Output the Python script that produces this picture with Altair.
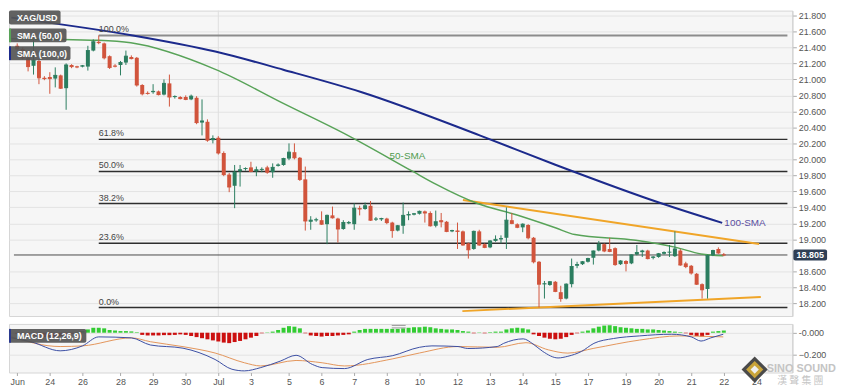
import altair as alt
import pandas as pd

FONT = "Liberation Sans"
GREEN = "#2b7d5f"
RED = "#d1543c"

# ---------------- data (4H candles, index 0 = first candle of Jun 23) ----------------
day_ticks = [0, 6, 12, 19, 25, 31, 37, 43, 50, 56, 62, 68, 74, 81, 87, 93, 99, 105, 112, 118, 124, 130, 136]
day_labels = ["Jun", "24", "26", "28", "29", "30", "Jul", "3", "5", "6", "7", "8", "10",
              "12", "13", "14", "15", "17", "19", "20", "21", "22", "24"]

opens = [21.42, 21.38, 21.27, 21.17, 21.23, 21.02, 21.03, 21.01, 21.05, 20.89,
         21.18, 21.16, 21.16, 21.16, 21.36, 21.47, 21.45, 21.29, 21.17, 21.18,
         21.21, 21.28, 21.27, 20.93, 20.83, 20.84, 20.85, 20.81, 20.95, 20.78,
         20.78, 20.78, 20.75, 20.77, 20.46, 20.47, 20.24, 20.27, 20.08, 19.81,
         19.67, 19.85, 19.88, 19.90, 19.85, 19.87, 19.90, 19.84, 19.92, 19.93,
         20.01, 20.09, 20.02, 19.75, 19.22, 19.24, 19.24, 19.19, 19.30, 19.26,
         19.13, 19.20, 19.19, 19.39, 19.38, 19.42, 19.25, 19.25, 19.26, 19.21,
         19.11, 19.17, 19.30, 19.31, 19.32, 19.35, 19.33, 19.17, 19.24, 19.22,
         19.10, 19.11, 19.10, 18.95, 18.88, 19.10, 18.94, 18.90, 18.98, 19.00,
         19.02, 19.24, 19.19, 19.15, 19.18, 19.02, 18.72, 18.44, 18.43, 18.47,
         18.34, 18.26, 18.44, 18.67, 18.69, 18.72, 18.77, 18.86, 18.94, 18.88,
         18.89, 18.69, 18.73, 18.70, 18.81, 18.84, 18.86, 18.77, 18.78, 18.82,
         18.84, 18.79, 18.86, 18.70, 18.67, 18.57, 18.44, 18.38, 18.80, 18.88,
         18.81]
highs = [21.45, 21.40, 21.30, 21.49, 21.25, 21.04, 21.09, 21.15, 21.06, 21.20,
         21.19, 21.17, 21.18, 21.42, 21.50, 21.55, 21.46, 21.30, 21.19, 21.23,
         21.36, 21.30, 21.28, 20.94, 20.85, 20.94, 20.86, 21.00, 21.06, 20.80,
         20.79, 20.80, 20.81, 20.79, 20.75, 20.50, 20.30, 20.29, 20.10, 19.83,
         19.93, 19.93, 19.90, 19.97, 19.91, 19.90, 19.92, 19.95, 19.95, 20.02,
         20.20, 20.20, 20.03, 19.91, 19.29, 19.27, 19.35, 19.31, 19.41, 19.27,
         19.24, 19.23, 19.45, 19.42, 19.46, 19.48, 19.28, 19.27, 19.27, 19.22,
         19.18, 19.46, 19.35, 19.33, 19.36, 19.36, 19.35, 19.36, 19.33, 19.23,
         19.12, 19.21, 19.11, 18.96, 19.11, 19.12, 18.95, 18.99, 19.05, 19.05,
         19.40, 19.33, 19.20, 19.20, 19.19, 19.03, 18.73, 18.48, 18.48, 18.48,
         18.42, 18.45, 18.76, 18.72, 18.73, 18.77, 18.86, 18.98, 18.95, 19.02,
         18.90, 18.74, 18.74, 18.81, 18.93, 18.87, 18.87, 18.79, 18.83, 18.85,
         18.93, 19.10, 18.88, 18.72, 18.68, 18.58, 18.45, 18.81, 18.87, 18.90,
         18.83]
lows = [21.36, 21.25, 21.10, 21.06, 20.94, 20.99, 20.82, 20.90, 20.88, 20.62,
        21.14, 21.14, 21.15, 21.11, 21.35, 21.44, 21.25, 21.13, 21.15, 21.05,
        21.18, 21.25, 20.91, 20.80, 20.81, 20.82, 20.80, 20.80, 20.66, 20.76,
        20.75, 20.74, 20.74, 20.44, 20.30, 20.22, 20.20, 20.06, 19.79, 19.59,
        19.39, 19.66, 19.86, 19.84, 19.79, 19.84, 19.82, 19.77, 19.91, 19.92,
        19.99, 20.00, 19.73, 19.11, 19.12, 19.22, 19.18, 18.94, 19.26, 18.96,
        19.12, 19.19, 19.12, 19.30, 19.37, 19.23, 19.23, 19.23, 19.19, 19.02,
        19.10, 19.07, 19.24, 19.30, 19.31, 19.21, 19.16, 19.15, 19.15, 19.09,
        19.09, 18.88, 18.92, 18.76, 18.87, 18.92, 18.89, 18.89, 18.97, 18.95,
        18.88, 19.19, 19.14, 19.09, 19.00, 18.70, 18.15, 18.26, 18.42, 18.34,
        18.22, 18.25, 18.40, 18.64, 18.68, 18.71, 18.685, 18.85, 18.84, 18.84,
        18.67, 18.68, 18.60, 18.69, 18.80, 18.78, 18.75, 18.75, 18.77, 18.81,
        18.78, 18.78, 18.67, 18.64, 18.56, 18.43, 18.26, 18.26, 18.79, 18.82,
        18.79]
closes = [21.38, 21.27, 21.16, 21.24, 21.02, 21.01, 21.01, 21.05, 20.89, 21.18,
          21.16, 21.155, 21.17, 21.36, 21.47, 21.46, 21.27, 21.15, 21.165, 21.21,
          21.29, 21.26, 20.93, 20.82, 20.825, 20.85, 20.81, 20.95, 20.78, 20.785,
          20.76, 20.75, 20.79, 20.46, 20.48, 20.24, 20.26, 20.08, 19.81, 19.655,
          19.84, 19.87, 19.885, 19.85, 19.87, 19.875, 19.84, 19.90, 19.93, 20.01,
          20.09, 20.02, 19.75, 19.23, 19.24, 19.245, 19.19, 19.30, 19.27, 19.13,
          19.21, 19.21, 19.39, 19.38, 19.42, 19.24, 19.255, 19.26, 19.21, 19.11,
          19.17, 19.30, 19.31, 19.32, 19.35, 19.33, 19.17, 19.22, 19.22, 19.10,
          19.11, 19.10, 18.93, 18.87, 19.10, 18.93, 18.90, 18.98, 19.00, 19.01,
          19.24, 19.20, 19.15, 19.19, 19.02, 18.72, 18.44, 18.445, 18.47, 18.35,
          18.26, 18.44, 18.66, 18.685, 18.72, 18.76, 18.855, 18.94, 18.855, 18.85,
          18.685, 18.73, 18.70, 18.806, 18.835, 18.855, 18.76, 18.78, 18.82, 18.835,
          18.84, 18.88, 18.68, 18.66, 18.58, 18.44, 18.37, 18.80, 18.86, 18.83,
          18.805]

sma50_x = [-1.07, 15, 20.9, 36.45, 48.95, 60.9, 72.7, 77, 84.7, 91.8, 99, 102.6, 113.8, 121, 125.8, 129.9]
sma50_y = [21.509, 21.488, 21.457, 21.125, 20.70, 20.297, 19.852, 19.69, 19.448, 19.307, 19.145, 19.06,
           18.988, 18.903, 18.818, 18.794]
sma100_x = [-1.07, 21.26, 36.45, 48.95, 63.25, 85.2, 99, 118.6, 129.7]
sma100_y = [21.772, 21.549, 21.348, 21.121, 20.842, 20.297, 19.933, 19.448, 19.206]

fib_names = ["100.0%", "61.8%", "50.0%", "38.2%", "23.6%", "0.0%"]
fib_prices = [21.549, 20.250, 19.849, 19.447, 18.951, 18.148]
fib_start = 15

trend_upper_x = [82, 136.5]
trend_upper_y = [19.491, 18.943]
trend_lower_x = [81.9, 136.8]
trend_lower_y = [18.103, 18.281]

last_price = 18.805
price_ticks = [21.8, 21.6, 21.4, 21.2, 21.0, 20.8, 20.6, 20.4, 20.2, 20.0, 19.8, 19.6, 19.4, 19.2, 19.0,
               18.6, 18.4, 18.2]

hist = [-0.01, -0.015, -0.02, -0.03, -0.035, -0.04, -0.04, -0.035, -0.03, -0.02,
        -0.01, 0.005, 0.015, 0.03, 0.045, 0.045, 0.04, 0.025, 0.02, 0.015,
        0.015, 0.012, 0.005, -0.02, -0.025, -0.025, -0.025, -0.022, -0.022, -0.02,
        -0.015, -0.02, -0.03, -0.04, -0.05, -0.06, -0.07, -0.08, -0.09, -0.095,
        -0.085, -0.075, -0.06, -0.045, -0.03, -0.005, 0.003, 0.01, 0.025, 0.045,
        0.06, 0.055, 0.04, -0.005, -0.025, -0.03, -0.035, -0.03, -0.03, -0.025,
        -0.02, -0.015, 0.01, 0.025, 0.035, 0.035, 0.035, 0.035, 0.035, 0.035,
        0.035, 0.04, 0.045, 0.05, 0.05, 0.055, 0.05, 0.04, 0.035, 0.03,
        0.03, 0.025, 0.015, 0.01, -0.005, 0.003, -0.005, 0.005, 0.01, 0.01,
        0.03, 0.04, 0.045, 0.04, 0.03, -0.015, -0.03, -0.045, -0.055, -0.06,
        -0.055, -0.04, -0.02, -0.005, 0.01, 0.02, 0.04, 0.055, 0.065, 0.068,
        0.06, 0.05, 0.045, 0.04, 0.035, 0.035, 0.03, 0.03, 0.025, 0.02,
        0.015, 0.01, 0.005, -0.005, -0.02, -0.03, -0.035, -0.02, 0.01, 0.015,
        0.02]
macd_x = [-1.07, 2.5, 7.9, 12, 15, 21, 24.5, 30.5, 36.4, 39.5, 41.8, 44.8, 48.4, 51.3, 54.3, 56.1, 60.2,
          64.5, 69.1, 74, 76.3, 81.1, 82.9, 88.3, 89.5, 93.1, 94.9, 96.7, 99.5, 101.3, 103.8, 106.1,
          109.7, 114.5, 120.4, 124, 125.8, 127.6, 129.9]
macd_v = [-0.047, -0.082, -0.165, -0.12, -0.038, -0.047, -0.112, -0.141, -0.244, -0.333, -0.348, -0.318,
          -0.259, -0.206, -0.289, -0.318, -0.327, -0.244, -0.209, -0.133, -0.120, -0.126, -0.144, -0.126,
          -0.097, -0.056, -0.103, -0.171, -0.230, -0.215, -0.171, -0.097, -0.053, -0.029, -0.014, -0.038,
          -0.076, -0.047, -0.014]
signal_x = [-1.07, 7.9, 12, 21, 24.5, 30.5, 36.4, 41.8, 44.8, 51.3, 56.1, 60.2, 69.1, 74, 81.1, 88.3,
            93.6, 97.7, 101.3, 106.1, 114.5, 121.8, 125.8, 129.9]
signal_v = [-0.038, -0.126, -0.120, -0.047, -0.082, -0.127, -0.185, -0.274, -0.303, -0.253, -0.274,
            -0.303, -0.238, -0.185, -0.126, -0.133, -0.091, -0.156, -0.186, -0.142, -0.067, -0.029,
            -0.032, -0.038]

# ---------------- layout ----------------
X_MIN, X_MAX = -0.6, 141.7
W = 790
H_MAIN = 308
H_MACD = 49
Y_MIN, Y_MAX = 18.042, 21.86
M_MIN, M_MAX = -0.363, 0.08

xs = alt.Scale(domain=[X_MIN, X_MAX], nice=False, zero=False)
ys = alt.Scale(domain=[Y_MIN, Y_MAX], nice=False, zero=False)
ms = alt.Scale(domain=[M_MIN, M_MAX], nice=False, zero=False)

y_axis = alt.Axis(orient="right", values=price_ticks, format=".3f", title=None, grid=True,
                  gridColor="#e3e3e3", tickSize=4, tickColor="#aaa", domainColor="#cfcfcf",
                  labelColor="#555", labelFontSize=9, labelPadding=2)
m_axis = alt.Axis(orient="right", values=[0, -0.2], title=None, grid=True, gridColor="#e3e3e3",
                  tickSize=4, tickColor="#aaa", domainColor="#cfcfcf", labelColor="#555",
                  labelFontSize=9, labelPadding=2,
                  labelExpr="datum.value == 0 ? '-0.000' : format(datum.value, '.3f')")
lab_expr = "[" + ",".join("'%s'" % s for s in day_labels) + "][indexof([" + \
           ",".join(str(t) for t in day_ticks) + "], datum.value)]"
x_axis = alt.Axis(values=day_ticks, labelExpr=lab_expr, title=None, grid=False, tickSize=3,
                  tickColor="#aaa", domain=False, labelColor="#555", labelFontSize=9, labelPadding=2)


def X(f):
    return alt.X(f, type="quantitative", scale=xs, axis=None)


def Y(f):
    return alt.Y(f, type="quantitative", scale=ys, axis=y_axis)


def XM(f):
    return alt.X(f, type="quantitative", scale=xs, axis=x_axis)


def YM(f):
    return alt.Y(f, type="quantitative", scale=ms, axis=m_axis)


one = alt.Data(values=[{}])

candles = pd.DataFrame({"i": list(range(len(opens))), "open": opens, "high": highs,
                        "low": lows, "close": closes})
up = candles[candles.close >= candles.open]
down = candles[candles.close < candles.open]


def candle_layers(df, color):
    return [
        alt.Chart(df).mark_rule(strokeWidth=1, color=color).encode(x=X("i"), y=Y("low"), y2="high"),
        alt.Chart(df).mark_bar(size=4, color=color).encode(x=X("i"), y=Y("open"), y2="close"),
        alt.Chart(df).mark_tick(orient="horizontal", size=4, thickness=1, color=color, opacity=1).encode(
            x=X("i"), y=Y("close")),
    ]


month_df = pd.DataFrame({"x": [37], "y0": [Y_MIN], "y1": [Y_MAX]})
month_rule = alt.Chart(month_df).mark_rule(color="#dedede", strokeWidth=1).encode(
    x=X("x"), y=Y("y0"), y2="y1")

fib_df = pd.DataFrame({"name": fib_names, "price": fib_prices, "x0": fib_start, "x1": X_MAX})
fib_top = alt.Chart(fib_df.iloc[:1]).mark_rule(strokeWidth=2, color="#8c8c8c").encode(
    x=X("x0"), x2="x1", y=Y("price"))
fib_rest = alt.Chart(fib_df.iloc[1:]).mark_rule(strokeWidth=1.5, color="#2e2e2e").encode(
    x=X("x0"), x2="x1", y=Y("price"))
fib_text = alt.Chart(fib_df).mark_text(align="left", baseline="bottom", dy=-1, fontSize=9,
                                       color="#444", font=FONT).encode(
    x=X("x0"), y=Y("price"), text="name:N")

price_df = pd.DataFrame({"x0": [X_MIN], "x1": [X_MAX], "p": [last_price],
                         "p0": [last_price - 0.068], "p1": [last_price + 0.068],
                         "t": ["%.3f" % last_price]})
price_line = alt.Chart(price_df).mark_rule(color="#4a4a4a", strokeWidth=1).encode(
    x=X("x0"), x2="x1", y=Y("p"))
price_box = alt.Chart(price_df).mark_rect(color="#2f3f55", cornerRadius=2, clip=False).encode(
    x=alt.value(W + 1), x2=alt.value(W + 35), y=Y("p0"), y2="p1")
price_txt = alt.Chart(price_df).mark_text(color="white", fontSize=9, fontWeight="bold", font=FONT,
                                          clip=False).encode(
    x=alt.value(W + 18), y=Y("p"), text="t:N")

sma50 = alt.Chart(pd.DataFrame({"x": sma50_x, "y": sma50_y})).mark_line(
    color="#58a358", strokeWidth=1.5, interpolate="monotone", clip=True).encode(x=X("x"), y=Y("y"))
sma100 = alt.Chart(pd.DataFrame({"x": sma100_x, "y": sma100_y})).mark_line(
    color="#1c2a8c", strokeWidth=2, interpolate="monotone", clip=True).encode(x=X("x"), y=Y("y"))

tu = alt.Chart(pd.DataFrame({"x": trend_upper_x, "y": trend_upper_y})).mark_line(
    color="#f0a528", strokeWidth=2).encode(x=X("x"), y=Y("y"))
tl = alt.Chart(pd.DataFrame({"x": trend_lower_x, "y": trend_lower_y})).mark_line(
    color="#f0a528", strokeWidth=2).encode(x=X("x"), y=Y("y"))

ann_df = pd.DataFrame({"x": [71.8, 130.1], "y": [20.04, 19.206], "t": ["50-SMA", "100-SMA"]})
ann1 = alt.Chart(ann_df.iloc[:1]).mark_text(align="center", baseline="middle", fontSize=10,
                                            font=FONT, color="#4f9a4f").encode(
    x=X("x"), y=Y("y"), text="t:N")
ann2 = alt.Chart(ann_df.iloc[1:]).mark_text(align="left", baseline="middle", fontSize=10,
                                            font=FONT, color="#5a4ea0").encode(
    x=X("x"), y=Y("y"), text="t:N")


def tag(label, y0, wdt, edge=None):
    layers = [alt.Chart(one).mark_rect(color="#555555", opacity=0.92, cornerRadius=2).encode(
        x=alt.value(0), x2=alt.value(wdt), y=alt.value(y0), y2=alt.value(y0 + 14))]
    if edge:
        layers.append(alt.Chart(one).mark_rect(color=edge).encode(
            x=alt.value(0), x2=alt.value(2), y=alt.value(y0), y2=alt.value(y0 + 14)))
    layers.append(alt.Chart(one).mark_text(align="left", baseline="middle", color="white",
                                           fontSize=9, fontWeight="bold", font=FONT).encode(
        x=alt.value(8), y=alt.value(y0 + 7.5), text=alt.value(label)))
    return layers


main = alt.layer(
    month_rule, fib_top, fib_rest, price_line, tu, tl, sma100, sma50,
    *candle_layers(up, GREEN), *candle_layers(down, RED),
    fib_text, ann1, ann2, price_box, price_txt,
    *tag("XAG/USD", 0, 52), *tag("SMA (50,0)", 18, 58, "#58a358"), *tag("SMA (100,0)", 36, 62, "#1c2a8c")
).properties(width=W, height=H_MAIN)

# ---------------- MACD panel ----------------
hdf = pd.DataFrame({"i": list(range(len(hist))), "h": hist, "z": 0.0})
hpos = hdf[hdf.h >= 0]
hneg = hdf[hdf.h < 0]
hbars_pos = alt.Chart(hpos).mark_bar(size=4, color="#33cc33").encode(x=XM("i"), y=YM("h"), y2="z")
hbars_neg = alt.Chart(hneg).mark_bar(size=4, color="#cc1010").encode(x=XM("i"), y=YM("h"), y2="z")
mline = alt.Chart(pd.DataFrame({"x": macd_x, "v": macd_v})).mark_line(
    color="#3b4ea3", strokeWidth=1, interpolate="monotone", clip=True).encode(x=XM("x"), y=YM("v"))
sline = alt.Chart(pd.DataFrame({"x": signal_x, "v": signal_v})).mark_line(
    color="#e3955a", strokeWidth=1, interpolate="monotone", clip=True).encode(x=XM("x"), y=YM("v"))
mmonth = alt.Chart(pd.DataFrame({"x": [37], "a": [M_MIN], "b": [M_MAX]})).mark_rule(
    color="#dedede").encode(x=XM("x"), y=YM("a"), y2="b")

# panel separator grip (inside the top edge of the MACD pane)
grip = [alt.Chart(one).mark_rule(color="#9a9a9a", strokeWidth=1).encode(
    x=alt.value(386), x2=alt.value(400), y=alt.value(yy)) for yy in (1.5, 4)]

wm = [
    alt.Chart(one).mark_point(shape="diamond", filled=True, size=700, color="#4a4a4a", opacity=1,
                              clip=False).encode(x=alt.value(752), y=alt.value(46)),
    alt.Chart(one).mark_point(shape="diamond", filled=True, size=300, color="#c9a43a", opacity=1,
                              clip=False).encode(x=alt.value(752), y=alt.value(46)),
    alt.Chart(one).mark_point(shape="diamond", filled=True, size=70, color="#f0f0f0", opacity=1,
                              clip=False).encode(x=alt.value(752), y=alt.value(46)),
    alt.Chart(one).mark_text(fontSize=11, fontWeight="bold", font=FONT, color="#c4c4c4",
                             clip=False).encode(x=alt.value(799), y=alt.value(45),
                                                text=alt.value("SINO SOUND")),
    alt.Chart(one).mark_text(fontSize=10, font="Noto Sans CJK TC", color="#c4c4c4",
                             clip=False).encode(x=alt.value(798), y=alt.value(58),
                                                text=alt.value("漢 聲 集 團")),
]

macd = alt.layer(
    mmonth, hbars_pos, hbars_neg, sline, mline, *grip, *tag("MACD (12,26,9)", 5, 78, "#2b3a8f"), *wm
).properties(width=W, height=H_MACD)

chart = alt.vconcat(main, macd, spacing=6).resolve_scale(
    x="independent", y="independent"
).properties(padding=0, background="white").configure_view(
    stroke="#d6d6d6", fill="#f6f6f6"
).configure_axis(labelFont=FONT).configure_text(font=FONT)

chart.save("out.html", embed_options={"renderer": "svg", "actions": False})
